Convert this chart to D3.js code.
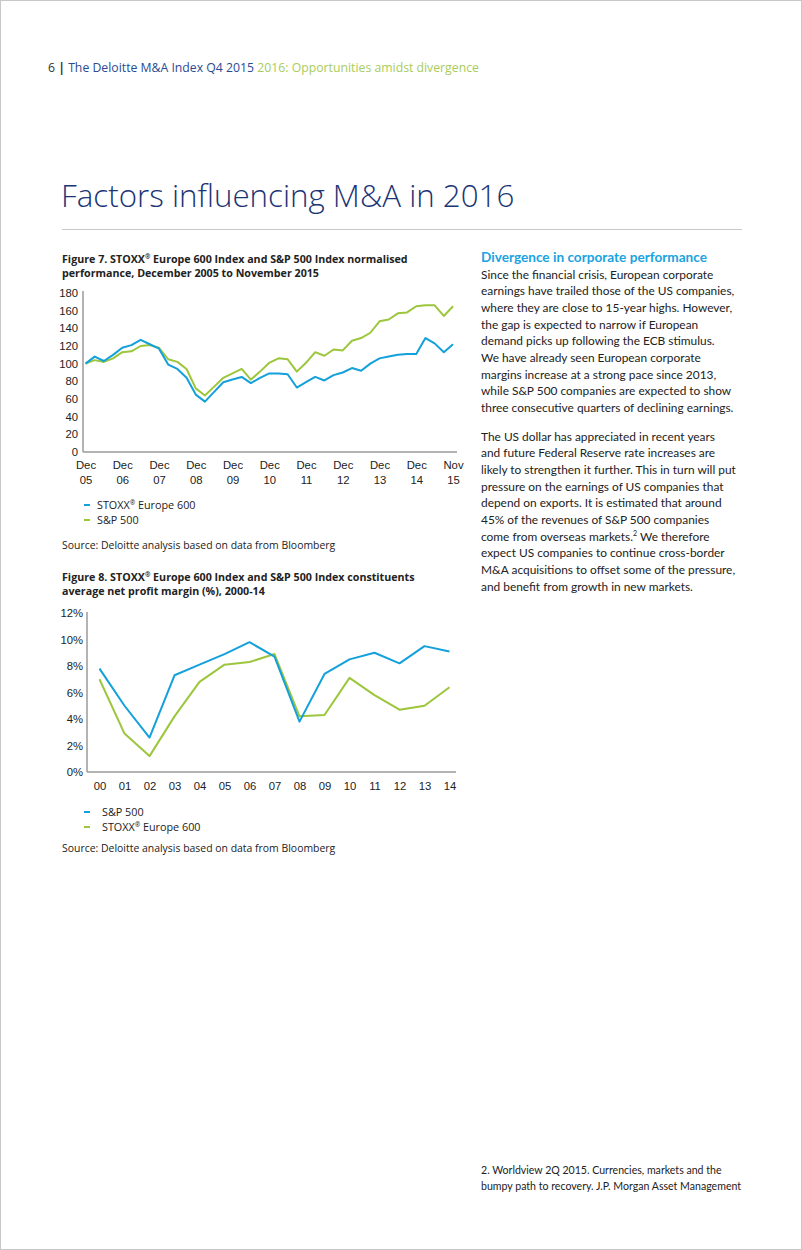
<!DOCTYPE html>
<html>
<head>
<meta charset="utf-8">
<script src="https://cdn.jsdelivr.net/npm/d3@7"></script>
<style>
  html, body { margin: 0; padding: 0; background: #fff; }
  svg { display: block; font-family: "Open Sans", "Noto Sans", sans-serif; }
</style>
</head>
<body>
<svg id="page" width="802" height="1250"></svg>
<script>
// ---------- Data ----------
// Figure 7: quarterly points, Dec 2005 .. Nov 2015 (41 points)
const fig7Stoxx = [100,108,103,110,118,121,127,122,117,99,94,84,65,57,68,79,82,85,78,84,89,89,88,73,79,85,81,87,90,95,92,100,106,108,110,111,111,129,123,113,122];
const fig7SP    = [100,104,102,106,113,114,120,121,118,105,102,94,72,64,74,84,89,94,82,91,101,106,105,91,101,113,109,116,115,126,129,135,148,150,157,158,165,166,166,154,165];
const fig7TickIdx = [0,4,8,12,16,20,24,28,32,36,40];
const fig7TickTop = ["Dec","Dec","Dec","Dec","Dec","Dec","Dec","Dec","Dec","Dec","Nov"];
const fig7TickBot = ["05","06","07","08","09","10","11","12","13","14","15"];
const fig7YTicks = [0,20,40,60,80,100,120,140,160,180];

// Figure 8: annual net profit margin (%), 2000-14
const fig8Years = ["00","01","02","03","04","05","06","07","08","09","10","11","12","13","14"];
const fig8SP    = [7.8,5.0,2.6,7.3,8.1,8.9,9.8,8.7,3.8,7.4,8.5,9.0,8.2,9.5,9.1];
const fig8Stoxx = [7.0,2.9,1.2,4.2,6.8,8.1,8.3,8.9,4.2,4.3,7.1,5.8,4.7,5.0,6.4];
const fig8YTicks = [0,2,4,6,8,10,12];

const para1 = [
  "Since the financial crisis, European corporate",
  "earnings have trailed those of the US companies,",
  "where they are close to 15-year highs. However,",
  "the gap is expected to narrow if European",
  "demand picks up following the ECB stimulus.",
  "We have already seen European corporate",
  "margins increase at a strong pace since 2013,",
  "while S&P 500 companies are expected to show",
  "three consecutive quarters of declining earnings."
];
const para2 = [
  "The US dollar has appreciated in recent years",
  "and future Federal Reserve rate increases are",
  "likely to strengthen it further. This in turn will put",
  "pressure on the earnings of US companies that",
  "depend on exports. It is estimated that around",
  "45% of the revenues of S&P 500 companies",
  "come from overseas markets.|2| We therefore",
  "expect US companies to continue cross-border",
  "M&A acquisitions to offset some of the pressure,",
  "and benefit from growth in new markets."
];

// ---------- Styles ----------
const BLUE = "#14a0db";
const GREEN = "#9cc63b";
const NAVY = "#1b3475";
const TEXT = "#222";
const AXIS = "#9a9a9a";
const BODY_FONT = "Lato, 'Open Sans', sans-serif";

const svg = d3.select("#page");

// measure helper: font size that makes `str` span `target` px
function fitSize(str, target, base, family, weight) {
  const t = svg.append("text").attr("font-size", base).attr("font-family", family)
    .attr("font-weight", weight || "normal").text(str);
  const w = t.node().getComputedTextLength();
  t.remove();
  return base * target / w;
}

// page frame
svg.append("rect").attr("x", 0.5).attr("y", 0.5).attr("width", 801).attr("height", 1249)
  .attr("fill", "none").attr("stroke", "#c8c8c8").attr("stroke-width", 1);

// header
const hdrSize = fitSize("6 | The Deloitte M&A Index Q4 2015 2016: Opportunities amidst divergence", 431, 13, "Open Sans");
const hdr = svg.append("text").attr("x", 48).attr("y", 72).attr("font-size", hdrSize);
hdr.append("tspan").attr("fill", "#333").text("6 ");
hdr.append("tspan").attr("fill", "#333").attr("font-weight", "bold").text("| ");
hdr.append("tspan").attr("fill", "#2a4a92").text("The Deloitte M&A Index Q4 2015 ");
hdr.append("tspan").attr("fill", "#a8cc5c").text("2016: Opportunities amidst divergence");

// title
svg.append("text").attr("x", 61).attr("y", 207).attr("font-size", 31.3).attr("font-weight", 300)
  .attr("fill", NAVY).text("Factors influencing M&A in 2016");
svg.append("line").attr("x1", 62).attr("x2", 742).attr("y1", 229.5).attr("y2", 229.5)
  .attr("stroke", "#c8c8c8").attr("stroke-width", 1);

// ---------- helper for figure title ----------
function figTitle(y, lines) {
  lines.forEach((ln, i) => {
    const t = svg.append("text").attr("x", 62).attr("y", y + i * 14)
      .attr("font-size", 10.7).attr("font-weight", "bold").attr("fill", TEXT);
    ln.forEach(part => {
      if (part.sup) t.append("tspan").attr("font-size", 6.5).attr("dy", -4).text(part.text);
      else {
        const s = t.append("tspan").text(part.text);
        if (part.after) s.attr("dy", 4);
      }
    });
  });
}

function legend(y, tx, items) {
  items.forEach((it, i) => {
    const yy = y + i * 15;
    svg.append("line").attr("x1", 84).attr("x2", 90).attr("y1", yy).attr("y2", yy)
      .attr("stroke", it.color).attr("stroke-width", 2);
    const t = svg.append("text").attr("x", tx).attr("y", yy + 4).attr("font-size", 10.8).attr("fill", TEXT);
    if (it.sup) {
      t.append("tspan").text(it.label[0]);
      t.append("tspan").attr("font-size", 6.5).attr("dy", -4).text("®");
      t.append("tspan").attr("dy", 4).text(it.label[1]);
    } else t.text(it.label);
  });
}

// ---------- Figure 7 ----------
figTitle(263, [
  [{text: "Figure 7. STOXX"}, {text: "®", sup: true}, {text: " Europe 600 Index and S&P 500 Index normalised", after: true}],
  [{text: "performance, December 2005 to November 2015"}]
]);

const x7 = d3.scaleLinear().domain([0, 40]).range([85.5, 453]);
const y7 = d3.scaleLinear().domain([0, 180]).range([452, 293]);

const g7 = svg.append("g");
const yAx7 = g7.append("g").attr("transform", "translate(83,0)")
  .call(d3.axisLeft(y7).tickValues(fig7YTicks).tickSize(0).tickPadding(5));
const xAx7 = g7.append("g").attr("transform", "translate(0,452)")
  .call(d3.axisBottom(x7).tickValues(fig7TickIdx).tickSize(0).tickFormat(() => ""));
[yAx7, xAx7].forEach(a => {
  a.select(".domain").remove();
  a.selectAll("text").attr("font-size", 11.3).attr("fill", TEXT).attr("font-family", null);
});
g7.append("line").attr("x1", 83).attr("x2", 83).attr("y1", 291).attr("y2", 452)
  .attr("stroke", AXIS).attr("stroke-width", 1.5);
g7.append("line").attr("x1", 83).attr("x2", 457).attr("y1", 452).attr("y2", 452)
  .attr("stroke", AXIS).attr("stroke-width", 1.5);
xAx7.selectAll(".tick").each(function(d, i) {
  const t = d3.select(this).select("text").attr("y", 0).attr("dy", null);
  t.append("tspan").attr("x", 0).attr("y", 17).text(fig7TickTop[i]);
  t.append("tspan").attr("x", 0).attr("y", 32).text(fig7TickBot[i]);
});

const line7 = d3.line().x((d, i) => x7(i)).y(d => y7(d));
g7.append("path").datum(fig7SP).attr("d", line7).attr("fill", "none")
  .attr("stroke", GREEN).attr("stroke-width", 2).attr("stroke-linejoin", "round");
g7.append("path").datum(fig7Stoxx).attr("d", line7).attr("fill", "none")
  .attr("stroke", BLUE).attr("stroke-width", 2).attr("stroke-linejoin", "round");

legend(505, 97, [
  {color: BLUE, label: ["STOXX", " Europe 600"], sup: true},
  {color: GREEN, label: "S&P 500"}
]);
svg.append("text").attr("x", 62).attr("y", 549).attr("font-size", 10.45).attr("fill", TEXT)
  .text("Source: Deloitte analysis based on data from Bloomberg");

// ---------- Figure 8 ----------
figTitle(581, [
  [{text: "Figure 8. STOXX"}, {text: "®", sup: true}, {text: " Europe 600 Index and S&P 500 Index constituents", after: true}],
  [{text: "average net profit margin (%), 2000-14"}]
]);

const x8 = d3.scaleLinear().domain([0, 14]).range([99.5, 449.5]);
const y8 = d3.scaleLinear().domain([0, 12]).range([772, 613]);
const g8 = svg.append("g");
const yAx8 = g8.append("g").attr("transform", "translate(87,0)")
  .call(d3.axisLeft(y8).tickValues(fig8YTicks).tickSize(0).tickPadding(4).tickFormat(d => d + "%"));
const xAx8 = g8.append("g").attr("transform", "translate(0,772)")
  .call(d3.axisBottom(x8).tickValues(d3.range(15)).tickSize(0).tickPadding(10).tickFormat(i => fig8Years[i]));
[yAx8, xAx8].forEach(a => {
  a.select(".domain").remove();
  a.selectAll("text").attr("font-size", 11.3).attr("fill", TEXT).attr("font-family", null);
});
g8.append("line").attr("x1", 87).attr("x2", 87).attr("y1", 612).attr("y2", 772)
  .attr("stroke", AXIS).attr("stroke-width", 1.5);
g8.append("line").attr("x1", 87).attr("x2", 456).attr("y1", 772).attr("y2", 772)
  .attr("stroke", AXIS).attr("stroke-width", 1.5);

const line8 = d3.line().x((d, i) => x8(i)).y(d => y8(d));
g8.append("path").datum(fig8Stoxx).attr("d", line8).attr("fill", "none")
  .attr("stroke", GREEN).attr("stroke-width", 2).attr("stroke-linejoin", "round");
g8.append("path").datum(fig8SP).attr("d", line8).attr("fill", "none")
  .attr("stroke", BLUE).attr("stroke-width", 2).attr("stroke-linejoin", "round");

legend(812, 102, [
  {color: BLUE, label: "S&P 500"},
  {color: GREEN, label: ["STOXX", " Europe 600"], sup: true}
]);
svg.append("text").attr("x", 62).attr("y", 852).attr("font-size", 10.45).attr("fill", TEXT)
  .text("Source: Deloitte analysis based on data from Bloomberg");

// ---------- Right column ----------
const headSize = fitSize("Divergence in corporate performance", 226, 12.8, BODY_FONT, "bold");
svg.append("text").attr("x", 481).attr("y", 262).attr("font-size", headSize).attr("font-weight", "bold")
  .attr("font-family", BODY_FONT).attr("fill", "#1aa3df").text("Divergence in corporate performance");

const bodySize = fitSize("likely to strengthen it further. This in turn will put", 255, 12.6, BODY_FONT);
function para(lines, y0) {
  lines.forEach((ln, i) => {
    const t = svg.append("text").attr("x", 481).attr("y", y0 + i * 16.7)
      .attr("font-size", bodySize).attr("font-family", BODY_FONT).attr("fill", TEXT);
    const parts = ln.split("|");
    if (parts.length === 3) {
      t.append("tspan").text(parts[0]);
      t.append("tspan").attr("font-size", 7).attr("dy", -5).text(parts[1]);
      t.append("tspan").attr("dy", 5).text(parts[2]);
    } else t.text(ln);
  });
}
para(para1, 278.5);
para(para2, 440.5);

// footnote
const fnSize = fitSize("bumpy path to recovery. J.P. Morgan Asset Management", 260, 10.6, BODY_FONT);
svg.append("text").attr("x", 481).attr("y", 1174).attr("font-size", fnSize).attr("font-family", BODY_FONT).attr("fill", TEXT)
  .text("2. Worldview 2Q 2015. Currencies, markets and the");
svg.append("text").attr("x", 481).attr("y", 1190).attr("font-size", fnSize).attr("font-family", BODY_FONT).attr("fill", TEXT)
  .text("bumpy path to recovery. J.P. Morgan Asset Management");
</script>
</body>
</html>
